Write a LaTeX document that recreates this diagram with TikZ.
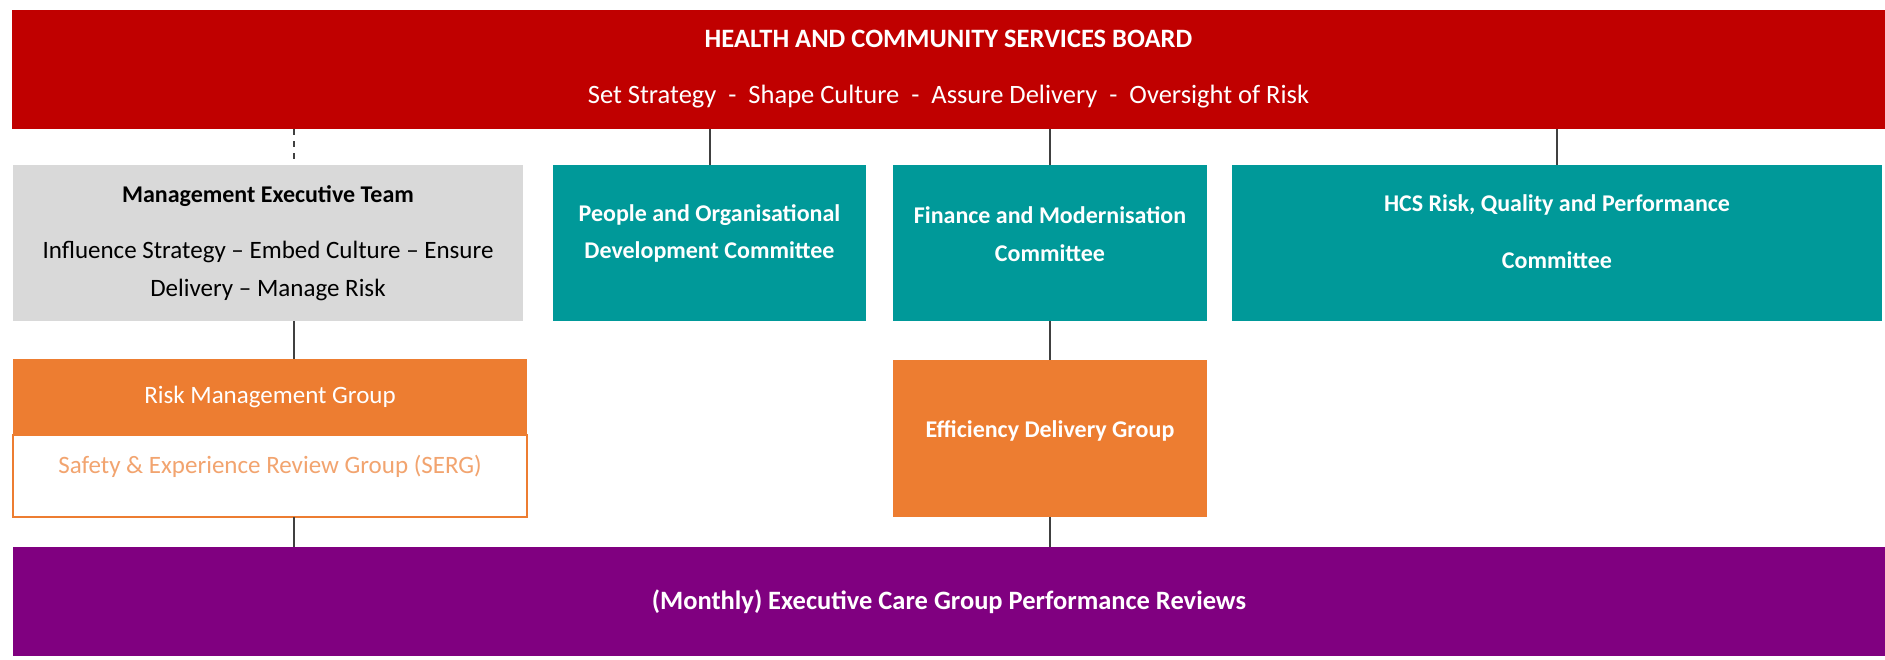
\documentclass[tikz,border=0pt]{standalone}
\usepackage{fontspec}
\setmainfont{Carlito}
\usetikzlibrary{positioning}

\definecolor{boardred}{HTML}{C00000}
\definecolor{committeeteal}{HTML}{009999}
\definecolor{grouporange}{HTML}{ED7D31}
\definecolor{sergorange}{HTML}{F2A46F}
\definecolor{metgray}{HTML}{D9D9D9}
\definecolor{reviewpurple}{HTML}{800080}
\definecolor{linkgray}{HTML}{404040}

% invisible strut that only adds depth below the last line
\newcommand{\lowstrut}[1]{\rule[-#1]{0pt}{#1}}

\begin{document}
\begin{tikzpicture}[
        x=0.5pt, y=-0.5pt,
        box/.style={rectangle, anchor=north west, inner sep=0pt, outer sep=0pt, align=center},
        board/.style={box, fill=boardred, text=white, minimum width=936.5pt, minimum height=59.5pt, font=\fontsize{13.25}{15}\selectfont},
        exec/.style={box, fill=metgray, text=black, minimum width=255pt, minimum height=78pt, font=\fontsize{12.5}{19}\selectfont},
        committee/.style={box, fill=committeeteal, text=white, minimum height=78pt, font=\bfseries\fontsize{12}{18.6}\selectfont},
        group/.style={box, fill=grouporange, text=white, font=\fontsize{12.5}{15}\selectfont},
        subgroup/.style={box, fill=white, draw=grouporange, line width=0.75pt, text=sergorange, font=\fontsize{12.5}{15}\selectfont},
        reviews/.style={box, fill=reviewpurple, text=white, minimum width=936pt, minimum height=54.5pt, font=\bfseries\fontsize{13.25}{15}\selectfont},
        link/.style={draw=linkgray, line width=1pt}
    ]
    \useasboundingbox (0,0) rectangle (1885,659);

    % Top: the board
    \node[board] (board) at (12,10) {\textbf{HEALTH AND COMMUNITY SERVICES BOARD}\\[13pt]
        Set Strategy\ \ -\ \ Shape Culture\ \ -\ \ Assure Delivery\ \ -\ \ Oversight of Risk};

    % Row 2: executive team and committees
    \node[exec] (met) at (13,165) {{\fontsize{12}{19}\selectfont\textbf{Management Executive Team}}\\[9pt]
        Influence Strategy -- Embed Culture -- Ensure\\ Delivery -- Manage Risk};
    \node[committee, minimum width=156.5pt, right=15pt of met] (pod) {People and Organisational\\ Development Committee\lowstrut{11.5pt}};
    \node[committee, minimum width=157pt, right=13.5pt of pod] (fmc) {Finance and Modernisation\\ Committee\lowstrut{9pt}};
    \node[committee, minimum width=325pt, right=12.5pt of fmc] (rqp) {HCS Risk, Quality and Performance\\[10pt] Committee\lowstrut{11.4pt}};

    % Row 3: groups
    \node[group, minimum width=257pt, minimum height=38pt] (rmg) at (13,359) {Risk Management Group};
    \node[subgroup, minimum width=257pt, minimum height=41pt, below=0pt of rmg] (serg) {Safety \& Experience Review Group (SERG)\lowstrut{12pt}};
    \node[group, font=\bfseries\fontsize{12}{15}\selectfont, minimum width=157pt, minimum height=78.5pt, below=19.5pt of fmc] (edg) {Efficiency Delivery Group\lowstrut{9.5pt}};

    % Bottom: monthly reviews
    \node[reviews] (reviews) at (13,547) {(Monthly) Executive Care Group Performance Reviews};

    % Connectors
    \coordinate (lx) at (294,0);
    \draw[link, dashed] (board.south -| lx) -- (met.north -| lx);
    \draw[link] (met.south -| lx) -- (rmg.north -| lx);
    \draw[link] (serg.south -| lx) -- (reviews.north -| lx);
    \draw[link] (board.south -| pod.north) -- (pod.north);
    \draw[link] (board.south -| fmc.north) -- (fmc.north);
    \draw[link] (board.south -| rqp.north) -- (rqp.north);
    \draw[link] (fmc.south) -- (edg.north);
    \draw[link] (edg.south) -- (reviews.north -| edg.south);

\end{tikzpicture}
\end{document}
